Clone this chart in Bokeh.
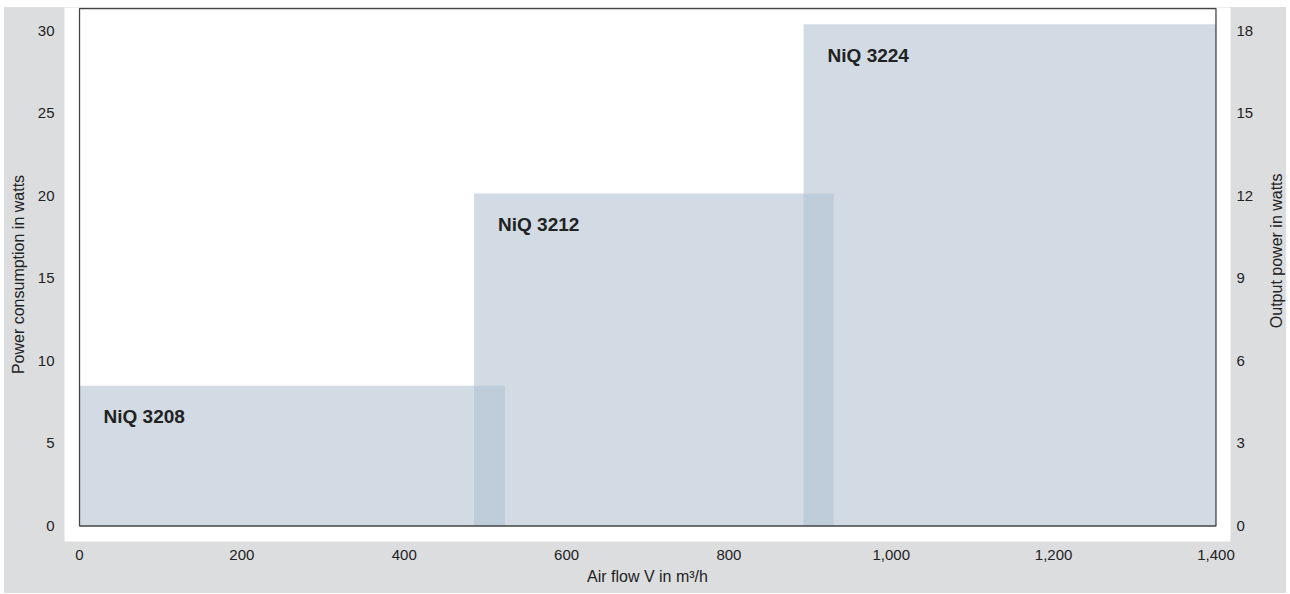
import math
from bokeh.plotting import figure
from bokeh.layouts import row
from bokeh.models import (ColumnDataSource, Range1d, LinearAxis, FixedTicker,
                          NumeralTickFormatter)
from bokeh.core.properties import value
from bokeh.embed import file_html
from bokeh.resources import INLINE

# ---- data -------------------------------------------------------------
models = ["NiQ 3208", "NiQ 3212", "NiQ 3224"]
flow_min = [0, 486, 892]          # m³/h
flow_max = [524, 929, 1400]       # m³/h
power = [8.5, 20.15, 30.4]        # W (power consumption)

x_ticks = [0, 200, 400, 600, 800, 1000, 1200, 1400]
y_ticks_left = [0, 5, 10, 15, 20, 25, 30]
y_ticks_right = [0, 3, 6, 9, 12, 15, 18]

X_MIN, X_MAX = 0, 1400
Y_MIN, Y_TOP = 0, 31.36
OUT_RATIO = 0.6  # output power scale relative to consumption scale

# ---- style -----------------------------------------------------------
BG = "#dcdddf"
BOX = "#b2c1d1"
TXT = "#222222"
TICK_FONT = "Liberation Sans"
TITLE_FONT = "Liberation Sans"
H = 586
BORDER_BOTTOM = 52

x_range = Range1d(-18.5, 1417.9)
y_range = Range1d(-0.94, 31.42)

p = figure(width=1252, height=H, x_range=x_range, y_range=y_range,
           output_backend="svg", toolbar_location=None,
           background_fill_color="white", border_fill_color=BG,
           min_border_left=60, min_border_right=26,
           min_border_top=0, min_border_bottom=BORDER_BOTTOM,
           x_axis_label="Air flow V in m³/h",
           y_axis_label="Power consumption in watts")
p.outline_line_color = None
p.xgrid.visible = False
p.ygrid.visible = False

src = ColumnDataSource(dict(left=flow_min, right=flow_max,
                            bottom=[0] * len(models), top=power,
                            name=models))
p.quad(left="left", right="right", bottom="bottom", top="top", source=src,
       fill_color=BOX, fill_alpha=0.58, line_color=None)

# black data box
p.quad(left=[X_MIN], right=[X_MAX], bottom=[Y_MIN], top=[Y_TOP],
       fill_color=None, line_color="#444444", line_width=1.3)

p.text(x="left", y="top", text="name", source=src, x_offset=24, y_offset=31,
       text_baseline="middle", text_align="left",
       text_font=value(TITLE_FONT), text_font_style="bold",
       text_font_size="19px", text_color=TXT)

def style_axis(ax, standoff, title_standoff):
    ax.axis_line_color = None
    ax.major_tick_line_color = None
    ax.minor_tick_line_color = None
    ax.major_tick_out = 0
    ax.major_tick_in = 0
    ax.major_label_standoff = standoff
    ax.major_label_text_font = TICK_FONT
    ax.major_label_text_font_size = "15px"
    ax.major_label_text_color = TXT
    ax.axis_label_text_font = TITLE_FONT
    ax.axis_label_text_font_size = "16px"
    ax.axis_label_text_font_style = "normal"
    ax.axis_label_text_color = TXT
    ax.axis_label_standoff = title_standoff

xa = p.xaxis[0]
xa.ticker = FixedTicker(ticks=x_ticks)
xa.formatter = NumeralTickFormatter(format="0,0")
style_axis(xa, 8, 5)

ya = p.yaxis[0]
ya.ticker = FixedTicker(ticks=y_ticks_left)
style_axis(ya, 10, 8)

p.extra_y_ranges = {"out": Range1d(y_range.start * OUT_RATIO,
                                   y_range.end * OUT_RATIO)}
ra = LinearAxis(y_range_name="out", ticker=FixedTicker(ticks=y_ticks_right))
style_axis(ra, 6, 0)
p.add_layout(ra, "right")

# narrow side panel carrying the right-hand axis title (reads upward);
# its frame fills the whole panel, range extended to cover the bottom border
span = y_range.end - y_range.start
side_y = Range1d(y_range.start - BORDER_BOTTOM * span / (H - BORDER_BOTTOM),
                 y_range.end)
side = figure(width=30, height=H, x_range=Range1d(0, 1), y_range=side_y,
              output_backend="svg", toolbar_location=None,
              background_fill_color=BG, border_fill_color=BG,
              min_border_left=0, min_border_right=0,
              min_border_top=0, min_border_bottom=0)
side.outline_line_color = None
side.axis.visible = False
side.xgrid.visible = False
side.ygrid.visible = False
side.text(x=[0], y=[(y_range.start + y_range.end) / 2],
          text=["Output power in watts"], x_offset=20, angle=math.pi / 2,
          text_align="center", text_baseline="middle",
          text_font=value(TITLE_FONT), text_font_size="16px",
          text_color=TXT)

layout = row(p, side, spacing=0)
layout.margin = (7, 0, 0, 4)
layout.styles = {"background-color": BG}

open("out.html", "w").write(file_html(layout, INLINE))
